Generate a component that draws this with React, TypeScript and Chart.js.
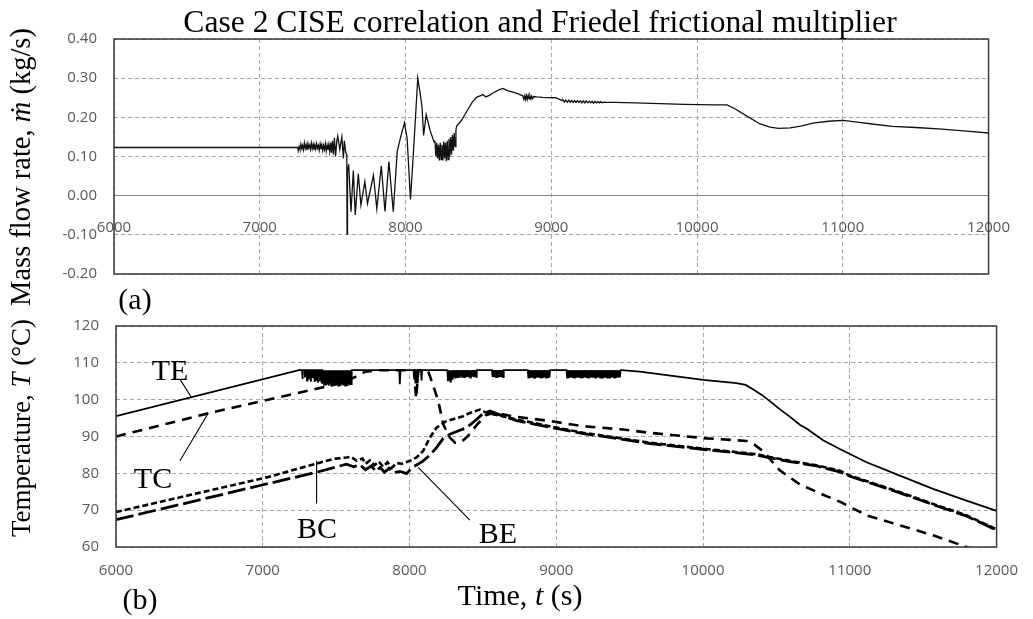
import React, { useEffect, useRef } from "react";
import { Chart, registerables } from "chart.js";

Chart.register(...registerables);

// ---------- Data ----------
const timeMin = 6000;
const timeMax = 12000;
const timeStep = 1000;
const massMin = -0.2;
const massMax = 0.4;
const massStep = 0.1;
const tempMin = 60;
const tempMax = 120;
const tempStep = 10;

// Mass flow rate (kg/s) vs time (s)
const massPoints: [number, number][] = [
  [6000, 0.123], [7262, 0.123],
  [7264, 0.115], [7270, 0.125], [7276, 0.118], [7282, 0.132], [7288, 0.120], [7294, 0.128], [7300, 0.117], [7306, 0.135],
  [7312, 0.121], [7318, 0.130], [7324, 0.116], [7330, 0.133], [7336, 0.122], [7342, 0.129], [7348, 0.118], [7354, 0.134],
  [7360, 0.120], [7366, 0.131], [7372, 0.117], [7378, 0.130], [7384, 0.119], [7390, 0.133], [7396, 0.121], [7402, 0.128],
  [7408, 0.116], [7414, 0.132], [7420, 0.119], [7426, 0.130], [7432, 0.115], [7438, 0.128], [7444, 0.118], [7450, 0.133],
  [7456, 0.114], [7462, 0.129], [7468, 0.117], [7474, 0.131], [7480, 0.113], [7486, 0.135], [7492, 0.110], [7498, 0.140],
  [7505, 0.105], [7512, 0.148], [7520, 0.100], [7528, 0.138],
  [7535, 0.152], [7549, 0.118], [7563, 0.150], [7574, 0.095], [7580, 0.140], [7590, 0.110], [7597, 0.105], [7599, -0.098],
  [7602, 0.060], [7610, 0.080], [7626, -0.041], [7642, 0.064], [7655, -0.049], [7676, 0.056], [7694, -0.024], [7721, 0.036],
  [7739, -0.020], [7780, 0.052], [7803, -0.033], [7834, 0.076], [7859, -0.040], [7886, 0.087], [7916, -0.041], [7943, 0.113],
  [7966, 0.149], [7993, 0.186], [8011, 0.146], [8034, -0.010], [8056, 0.121], [8084, 0.300], [8100, 0.262], [8113, 0.227],
  [8124, 0.154], [8142, 0.207], [8169, 0.166], [8196, 0.137],
  [8202, 0.140], [8208, 0.100], [8214, 0.135], [8220, 0.095], [8226, 0.130], [8232, 0.090], [8238, 0.135], [8244, 0.092],
  [8250, 0.130], [8256, 0.090], [8262, 0.138], [8268, 0.095], [8274, 0.135], [8280, 0.088], [8286, 0.140], [8292, 0.092],
  [8298, 0.145], [8304, 0.100], [8310, 0.150], [8316, 0.105], [8322, 0.155], [8328, 0.115], [8334, 0.160], [8340, 0.125],
  [8346, 0.168], [8351, 0.178],
  [8380, 0.190], [8420, 0.215], [8460, 0.240], [8487, 0.251], [8532, 0.258], [8550, 0.252], [8575, 0.256], [8600, 0.262],
  [8640, 0.270], [8668, 0.274], [8700, 0.268], [8760, 0.262], [8804, 0.255],
  [8812, 0.246], [8818, 0.255], [8824, 0.245], [8830, 0.256], [8836, 0.246], [8842, 0.256], [8848, 0.247], [8854, 0.255],
  [8860, 0.247], [8866, 0.254], [8872, 0.248], [8880, 0.253], [8900, 0.252], [8940, 0.251], [9030, 0.250], [9075, 0.243],
  [9080, 0.245], [9090, 0.239], [9100, 0.244], [9110, 0.239], [9120, 0.244], [9130, 0.238], [9140, 0.243], [9150, 0.238],
  [9160, 0.243], [9170, 0.238], [9180, 0.243], [9190, 0.238], [9200, 0.242], [9210, 0.237], [9220, 0.242], [9230, 0.237],
  [9240, 0.242], [9250, 0.237], [9260, 0.241], [9270, 0.237], [9280, 0.241], [9290, 0.236], [9300, 0.241], [9310, 0.237],
  [9320, 0.240], [9330, 0.237], [9340, 0.240], [9350, 0.237], [9360, 0.239], [9380, 0.238], [9400, 0.238], [9437, 0.238],
  [9573, 0.237], [9913, 0.233], [10117, 0.232], [10206, 0.232], [10260, 0.222], [10342, 0.203], [10433, 0.183], [10500, 0.175],
  [10560, 0.172], [10640, 0.173], [10720, 0.178], [10796, 0.185], [10900, 0.190], [11000, 0.192], [11100, 0.188], [11200, 0.183],
  [11340, 0.177], [11500, 0.174], [11680, 0.170], [11850, 0.165], [12000, 0.160],
];

// TE temperature (°C)
const tePoints: [number, number][] = [
  [6000, 95.5], [7253, 108.1],
  [7268, 108], [7270, 105.6], [7273, 108], [7285, 108], [7287, 106.0], [7290, 108], [7300, 108], [7302, 105.2], [7305, 108],
  [7312, 108], [7314, 105.5], [7317, 108], [7326, 108], [7328, 104.9], [7331, 108], [7338, 108], [7340, 105.8], [7343, 108],
  [7350, 108], [7352, 104.8], [7355, 108], [7362, 108], [7364, 105.3], [7367, 108], [7374, 108], [7376, 104.6], [7379, 108],
  [7386, 108], [7388, 105.0], [7391, 108], [7398, 108], [7400, 104.4], [7403, 108], [7406, 108],
  [7410, 104.3], [7414, 108], [7418, 104.0], [7422, 108], [7426, 104.5], [7430, 108], [7434, 103.9], [7438, 108],
  [7442, 104.2], [7446, 108], [7450, 103.8], [7454, 108], [7458, 104.4], [7462, 108], [7466, 103.9], [7470, 108],
  [7474, 104.1], [7478, 108], [7482, 103.8], [7486, 108], [7490, 104.3], [7494, 108], [7498, 103.9], [7502, 108],
  [7506, 104.2], [7510, 108], [7514, 103.8], [7518, 108], [7522, 104.0], [7526, 108], [7530, 103.7], [7534, 108],
  [7538, 104.2], [7542, 108], [7546, 103.9], [7550, 108], [7554, 104.1], [7558, 108], [7562, 103.8], [7566, 108],
  [7570, 104.0], [7574, 108], [7578, 103.7], [7582, 108], [7586, 104.2], [7590, 108], [7594, 103.9], [7598, 108],
  [7602, 104.2], [7606, 108],
  [7930, 108], [7934, 104.2], [7938, 108],
  [8036, 108], [8040, 104.6], [8044, 108], [8052, 108], [8056, 104.4], [8060, 108], [8078, 108], [8082, 105.2], [8086, 108],
  [8258, 108],
  [8262, 105.0], [8266, 108], [8270, 105.6], [8274, 108], [8278, 104.9], [8282, 108], [8286, 105.8], [8290, 108],
  [8294, 105.4], [8298, 108], [8302, 106.2], [8306, 108], [8310, 106.0], [8314, 108], [8318, 106.3], [8322, 108],
  [8326, 106.1], [8330, 108], [8334, 106.3], [8338, 108], [8342, 106.0], [8346, 108], [8350, 106.4], [8354, 108],
  [8358, 106.2], [8362, 108], [8366, 106.3], [8370, 108], [8374, 106.1], [8378, 108], [8382, 106.4], [8386, 108],
  [8390, 106.2], [8394, 108], [8398, 106.1], [8402, 108], [8406, 106.3], [8410, 108], [8414, 106.0], [8418, 108],
  [8422, 106.2], [8426, 108], [8430, 106.4], [8434, 108], [8438, 106.1], [8442, 108], [8446, 106.3], [8450, 108],
  [8454, 106.2], [8458, 108],
  [8562, 108],
  [8566, 106.2], [8570, 108], [8574, 106.1], [8578, 108], [8582, 106.2], [8586, 108], [8590, 106.1], [8594, 108],
  [8598, 106.2], [8602, 108], [8606, 106.1], [8610, 108], [8614, 106.2], [8618, 108], [8622, 106.1], [8626, 108],
  [8630, 106.2], [8634, 108], [8638, 106.1], [8642, 108],
  [8806, 108],
  [8810, 106.0], [8814, 108], [8818, 106.2], [8822, 108], [8826, 105.9], [8830, 108], [8834, 106.1], [8838, 108],
  [8842, 106.2], [8846, 108], [8850, 105.9], [8854, 108], [8858, 106.1], [8862, 108], [8866, 106.0], [8870, 108],
  [8874, 106.2], [8878, 108], [8882, 106.0], [8886, 108], [8890, 106.1], [8894, 108], [8898, 106.0], [8902, 108],
  [8906, 106.2], [8910, 108], [8914, 106.0], [8918, 108], [8922, 106.1], [8926, 108], [8930, 106.0], [8934, 108],
  [8938, 106.2], [8942, 108], [8946, 106.1], [8950, 108], [8954, 106.2], [8958, 108],
  [9070, 108],
  [9074, 106.0], [9078, 108], [9082, 106.1], [9086, 108], [9090, 106.0], [9094, 108], [9098, 106.2], [9102, 108],
  [9106, 106.0], [9110, 108], [9114, 106.1], [9118, 108], [9122, 106.0], [9126, 108], [9130, 106.2], [9134, 108],
  [9138, 106.0], [9142, 108], [9146, 106.1], [9150, 108], [9154, 106.0], [9158, 108], [9162, 106.2], [9166, 108],
  [9170, 106.0], [9174, 108], [9178, 106.1], [9182, 108], [9186, 106.0], [9190, 108], [9194, 106.2], [9198, 108],
  [9202, 106.0], [9206, 108], [9210, 106.1], [9214, 108], [9218, 106.0], [9222, 108], [9226, 106.2], [9230, 108],
  [9234, 106.0], [9238, 108], [9242, 106.1], [9246, 108], [9250, 106.0], [9254, 108], [9258, 106.2], [9262, 108],
  [9266, 106.0], [9270, 108], [9274, 106.1], [9278, 108], [9282, 106.0], [9286, 108], [9290, 106.2], [9294, 108],
  [9298, 106.0], [9302, 108], [9306, 106.1], [9310, 108], [9314, 106.0], [9318, 108], [9322, 106.2], [9326, 108],
  [9330, 106.0], [9334, 108], [9338, 106.1], [9342, 108], [9346, 106.0], [9350, 108], [9354, 106.2], [9358, 108],
  [9362, 106.0], [9366, 108], [9370, 106.1], [9374, 108], [9378, 106.0], [9382, 108], [9386, 106.2], [9390, 108],
  [9394, 106.0], [9398, 108], [9402, 106.1], [9406, 108], [9410, 106.0], [9414, 108], [9418, 106.2], [9422, 108],
  [9426, 106.0], [9430, 108], [9434, 106.1], [9438, 108],
  [9445, 108.0], [9569, 107.6], [10001, 105.4], [10228, 104.5], [10290, 104.0], [10340, 102.8], [10400, 101.3],
  [10455, 99.6], [10520, 97.5], [10591, 95.4], [10659, 93.2], [10705, 92.2], [10818, 89.0], [10932, 86.6], [11114, 83.0],
  [11341, 79.4], [11567, 75.8], [11795, 72.6], [12000, 69.8],
];

// TC temperature (°C)
const tcPoints: [number, number][] = [
  [6000, 90.0], [6640, 96.4], [7480, 104.0], [7560, 104.8], [7700, 107.6], [7800, 108.0], [8030, 108.0], [8045, 100.3],
  [8060, 108.0], [8110, 108.0], [8128, 107.6], [8160, 104.0], [8196, 99.6], [8230, 93.3], [8275, 89.7], [8310, 88.3],
  [8350, 88.4], [8400, 90.2], [8460, 93.2], [8520, 95.8], [8580, 96.5], [8700, 95.5], [8956, 94.2], [9183, 92.8],
  [9456, 91.9], [9638, 91.0], [10023, 89.5], [10296, 88.8], [10350, 87.8], [10409, 86.0], [10523, 80.8], [10659, 77.0],
  [10818, 74.2], [10932, 72.3], [11114, 68.6], [11341, 65.9], [11567, 63.2], [11795, 60.0], [11900, 58.4],
];

// BC temperature (°C)
const bcPoints: [number, number][] = [
  [6000, 69.5], [7027, 78.9], [7480, 83.9], [7571, 84.3], [7600, 84.5], [7640, 83.4], [7680, 84.0], [7700, 82.6],
  [7730, 83.5], [7760, 82.2], [7790, 83.2], [7820, 81.8], [7850, 83.0], [7880, 81.5], [7910, 82.8], [7950, 82.6],
  [8003, 83.4], [8048, 84.3], [8093, 86.1], [8139, 89.7], [8184, 92.4], [8252, 94.2], [8365, 95.5], [8411, 96.4],
  [8480, 97.3], [8520, 96.5], [8600, 95.8], [8730, 94.6], [8956, 92.8], [9183, 91.0], [9411, 89.7], [9638, 88.3],
  [10023, 86.6], [10364, 85.2], [10432, 84.6], [10591, 83.4], [10773, 82.2], [10932, 80.7], [11000, 79.4], [11341, 74.9],
  [11567, 71.7], [11795, 68.6], [12000, 64.8],
];

// BE temperature (°C)
const bePoints: [number, number][] = [
  [6000, 67.4], [6981, 76.7], [7367, 80.3], [7571, 82.5], [7620, 81.8], [7660, 82.4], [7700, 81.0], [7740, 82.0],
  [7770, 80.5], [7800, 81.6], [7830, 80.3], [7860, 81.4], [7890, 80.2], [7935, 80.5], [7980, 79.9], [8000, 80.8],
  [8025, 81.8], [8060, 82.5], [8093, 83.4], [8140, 85.0], [8184, 87.0], [8230, 89.5], [8275, 90.6], [8330, 91.5],
  [8389, 92.4], [8457, 94.6], [8500, 96.2], [8548, 96.9], [8620, 95.8], [8730, 94.3], [8956, 92.5], [9183, 90.8],
  [9411, 89.5], [9638, 88.1], [10023, 86.4], [10364, 85.0], [10432, 84.4], [10591, 83.2], [10773, 82.0], [10932, 80.4],
  [11000, 79.2], [11341, 74.7], [11567, 71.5], [11795, 68.4], [12000, 64.6],
];

// Leader lines for curve labels (data coordinates: [t1, T1, t2, T2])
const leaderLines: [number, number, number, number][] = [
  [6436, 105.5, 6518, 100.4],
  [6436, 83.4, 6629, 96.4],
  [7367, 71.8, 7367, 83.4],
  [8411, 67.3, 8059, 81.6],
];

// ---------- Styling helpers ----------
const SERIF = "'Liberation Serif', 'Times New Roman', serif";
const TICK_FONT = { family: "'Open Sans', 'Noto Sans', sans-serif", size: 15 };
const TICK_COLOR = "#595959";
const GRID_COLOR = "#a6a6a6";
const FRAME_COLOR = "#3a3a3a";

const toXY = (pts: [number, number][]) => pts.map(([x, y]) => ({ x, y }));

const framePlugin = {
  id: "frame",
  afterDraw(chart: any) {
    const { ctx, chartArea: a } = chart;
    ctx.save();
    ctx.strokeStyle = FRAME_COLOR;
    ctx.lineWidth = 1.5;
    ctx.setLineDash([]);
    ctx.strokeRect(a.left, a.top, a.right - a.left, a.bottom - a.top);
    ctx.restore();
  },
};

const leaderPlugin = {
  id: "leaders",
  afterDraw(chart: any) {
    const { ctx, scales } = chart;
    ctx.save();
    ctx.strokeStyle = "#000";
    ctx.lineWidth = 1.1;
    ctx.setLineDash([]);
    leaderLines.forEach(([t1, v1, t2, v2]) => {
      ctx.beginPath();
      ctx.moveTo(scales.x.getPixelForValue(t1), scales.y.getPixelForValue(v1));
      ctx.lineTo(scales.x.getPixelForValue(t2), scales.y.getPixelForValue(v2));
      ctx.stroke();
    });
    ctx.restore();
  },
};

function timeTicks(padding: number) {
  return {
    stepSize: timeStep,
    color: TICK_COLOR,
    font: TICK_FONT,
    maxRotation: 0,
    autoSkip: false,
    padding,
    callback: (v: any) => String(v),
  };
}

const Text: React.FC<{ x: number; baseline: number; size: number; children: any }> = ({
  x,
  baseline,
  size,
  children,
}) => (
  <div
    style={{
      position: "absolute",
      left: x,
      top: baseline - 0.8375 * size,
      transform: "translateX(-50%)",
      fontFamily: SERIF,
      fontSize: size,
      lineHeight: 1,
      whiteSpace: "nowrap",
      color: "#000",
      pointerEvents: "none",
    }}
  >
    {children}
  </div>
);

const VText: React.FC<{ cx: number; cy: number; size: number; children: any }> = ({ cx, cy, size, children }) => (
  <div
    style={{
      position: "absolute",
      left: cx,
      top: cy,
      transform: "translate(-50%, -50%) rotate(-90deg)",
      fontFamily: SERIF,
      fontSize: size,
      lineHeight: 1,
      whiteSpace: "nowrap",
      color: "#000",
      pointerEvents: "none",
    }}
  >
    {children}
  </div>
);

export default function App() {
  const topRef = useRef<HTMLCanvasElement | null>(null);
  const botRef = useRef<HTMLCanvasElement | null>(null);

  useEffect(() => {
    const common = {
      animation: false,
      responsive: false,
      devicePixelRatio: 1,
      events: [],
      plugins: { legend: { display: false }, tooltip: { enabled: false }, title: { display: false } },
      elements: { point: { radius: 0 }, line: { tension: 0 } },
    };

    const c1 = new Chart(topRef.current as HTMLCanvasElement, {
      type: "line",
      data: {
        datasets: [
          {
            label: "Mass flow rate",
            data: toXY(massPoints),
            borderColor: "#111",
            borderWidth: 1.3,
            fill: false,
            pointRadius: 0,
          },
        ],
      },
      options: {
        ...common,
        layout: { padding: { top: 39, right: 36, bottom: 15, left: 0 } },
        scales: {
          x: {
            type: "linear",
            min: timeMin,
            max: timeMax,
            position: { y: 0 },
            grid: { color: GRID_COLOR, lineWidth: 1, drawTicks: false },
            border: { display: true, color: "#868686", width: 1, dash: [4, 3] },
            ticks: timeTicks(23),
            afterFit: (s: any) => {
              s.height = 0;
            },
          },
          y: {
            type: "linear",
            min: massMin,
            max: massMax,
            grid: { color: GRID_COLOR, lineWidth: 1, drawTicks: false },
            border: { display: false, dash: [4, 3] },
            ticks: {
              stepSize: massStep,
              color: TICK_COLOR,
              font: TICK_FONT,
              padding: 17,
              callback: (v: any) => Number(v).toFixed(2),
            },
            afterFit: (s: any) => {
              s.width = 114;
            },
          },
        },
      } as any,
      plugins: [framePlugin],
    });

    const dsStyle = (label: string, pts: [number, number][], width: number, dash: number[]) => ({
      label,
      data: toXY(pts),
      borderColor: "#000",
      borderWidth: width,
      borderDash: dash,
      fill: false,
      pointRadius: 0,
    });

    const c2 = new Chart(botRef.current as HTMLCanvasElement, {
      type: "line",
      data: {
        datasets: [
          dsStyle("TE", tePoints, 1.8, []),
          dsStyle("TC", tcPoints, 2.6, [10, 7]),
          dsStyle("BC", bcPoints, 2.6, [6, 3]),
          dsStyle("BE", bePoints, 2.8, [18, 5]),
        ],
      },
      options: {
        ...common,
        layout: { padding: { top: 24, right: 36, bottom: 32, left: 0 } },
        scales: {
          x: {
            type: "linear",
            min: timeMin,
            max: timeMax,
            position: "bottom",
            grid: { color: GRID_COLOR, lineWidth: 1, drawTicks: false },
            border: { display: false, dash: [4, 3] },
            ticks: timeTicks(15),
            afterFit: (s: any) => {
              s.height = 40;
            },
          },
          y: {
            type: "linear",
            min: tempMin,
            max: tempMax,
            grid: { color: GRID_COLOR, lineWidth: 1, drawTicks: false },
            border: { display: false, dash: [4, 3] },
            ticks: {
              stepSize: tempStep,
              color: TICK_COLOR,
              font: TICK_FONT,
              padding: 17,
              callback: (v: any) => String(v),
            },
            afterFit: (s: any) => {
              s.width = 116;
            },
          },
        },
      } as any,
      plugins: [framePlugin, leaderPlugin],
    });

    return () => {
      c1.destroy();
      c2.destroy();
    };
  }, []);

  return (
    <div
      style={{
        position: "fixed",
        left: 0,
        top: 0,
        width: 1033,
        height: 619,
        background: "#fff",
        overflow: "hidden",
      }}
    >
      <canvas
        ref={topRef}
        width={1033}
        height={300}
        style={{ position: "absolute", left: 0, top: 0, width: 1033, height: 300, display: "block" }}
      />
      <canvas
        ref={botRef}
        width={1033}
        height={319}
        style={{ position: "absolute", left: 0, top: 300, width: 1033, height: 319, display: "block" }}
      />

      <Text x={540} baseline={32} size={31.6}>
        Case 2 CISE correlation and Friedel frictional multiplier
      </Text>
      <VText cx={21} cy={167} size={28.5}>
        Mass flow rate, <i>ṁ</i> (kg/s)
      </VText>
      <VText cx={21} cy={428} size={27}>
        Temperature, <i>T</i> (°C)
      </VText>
      <Text x={135} baseline={309} size={30}>
        (a)
      </Text>
      <Text x={140} baseline={609} size={30}>
        (b)
      </Text>
      <Text x={520} baseline={605} size={30}>
        Time, <i>t</i> (s)
      </Text>
      <Text x={170} baseline={380} size={30}>
        TE
      </Text>
      <Text x={153} baseline={488} size={30}>
        TC
      </Text>
      <Text x={317} baseline={538} size={30}>
        BC
      </Text>
      <Text x={498} baseline={543} size={30}>
        BE
      </Text>
    </div>
  );
}
